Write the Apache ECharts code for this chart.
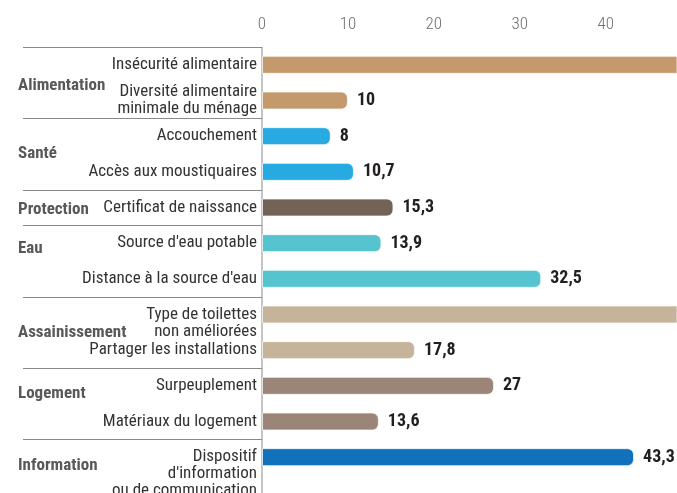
<!DOCTYPE html>
<html>
<head>
<meta charset="utf-8">
<script src="https://cdn.jsdelivr.net/npm/echarts@6/dist/echarts.min.js"></script>
<style>
html, body { margin: 0; padding: 0; background: #fff; }
#main { width: 677px; height: 493px; }
</style>
</head>
<body>
<div id="main"></div>
<script>
// données du graphique
var categories = [
	'Insécurité alimentaire',
	'Diversité alimentaire\nminimale du ménage',
	'Accouchement',
	'Accès aux moustiquaires',
	'Certificat de naissance',
	"Source d'eau potable",
	"Distance à la source d'eau",
	'Type de toilettes\nnon améliorées',
	'Partager les installations',
	'Surpeuplement',
	'Matériaux du logement',
	"Dispositif\nd'information\nou de communication"
];
var values = [56.4, 10, 8, 10.7, 15.3, 13.9, 32.5, 52.6, 17.8, 27, 13.6, 43.3];
var rowGroup = ['Alimentation', 'Alimentation', 'Santé', 'Santé', 'Protection', 'Eau', 'Eau',
	'Assainissement', 'Assainissement', 'Logement', 'Logement', 'Information'];
var groups = ['Alimentation', 'Santé', 'Protection', 'Eau', 'Assainissement', 'Logement', 'Information'];
var xTicks = [0, 10, 20, 30, 40];

// styles
var groupColor = {
	'Alimentation': '#c4996b',
	'Santé': '#27a9e1',
	'Protection': '#736357',
	'Eau': '#55c4ce',
	'Assainissement': '#c5b39a',
	'Logement': '#9b8478',
	'Information': '#1172bb'
};
// décalage vertical des libellés de groupe (px)
var groupShift = [3, 0, 2, -12, 0, -10, 9];
// libellés dont la première ligne est alignée sur la barre
var topAligned = [7, 11];

var FONT = '"Roboto Condensed", "Liberation Sans Narrow", "DejaVu Sans Condensed", sans-serif';
var X_MAX = 48.3;

function $each(arr, fn) {
	for (var i = 0; i < arr.length; i++) fn(i, arr[i]);
}

var chart = echarts.init(document.getElementById('main'));

var barData = [];
$each(values, function(i, v) {
	var item = { value: v, itemStyle: { color: groupColor[rowGroup[i]] } };
	if (v > X_MAX) {
		item.itemStyle.borderRadius = 0;
		item.label = { show: false };
	}
	barData.push(item);
});

chart.setOption({
	animation: false,
	grid: { left: 262, right: 0, top: 47, bottom: 18, outerBoundsMode: 'none' },
	xAxis: {
		type: 'value',
		position: 'top',
		min: 0,
		max: X_MAX,
		interval: 10,
		axisLine: { show: false },
		axisTick: { show: false },
		splitLine: { show: false },
		axisLabel: {
			margin: 14,
			color: '#6d6e71',
			fontSize: 17,
			fontWeight: 300,
			fontFamily: FONT,
			showMaxLabel: false,
			formatter: function(v) {
				return xTicks.indexOf(v) >= 0 ? String(v) : '';
			}
		}
	},
	yAxis: {
		type: 'category',
		inverse: true,
		data: categories,
		axisLine: { show: false },
		axisTick: { show: false },
		axisLabel: {
			interval: 0,
			margin: 5,
			color: '#333',
			fontSize: 17,
			lineHeight: 17,
			fontFamily: FONT,
			formatter: function(value, idx) {
				if (topAligned.indexOf(idx) >= 0) {
					var n = value.split('\n').length - 1;
					for (var k = 0; k < n; k++) value = ' \n' + value;
				}
				return value;
			}
		}
	},
	series: [{
		type: 'bar',
		data: barData,
		barWidth: 18,
		clip: true,
		itemStyle: {
			borderRadius: [0, 6, 6, 0],
			borderColor: 'rgba(255,255,255,0.7)',
			borderWidth: 1
		},
		label: {
			show: true,
			position: 'right',
			distance: 9,
			color: '#231f20',
			fontSize: 18,
			fontWeight: 'bold',
			fontFamily: FONT,
			formatter: function(p) {
				return String(p.value).replace('.', ',');
			}
		}
	}]
});

// séparateurs et libellés de groupe
var x0 = chart.convertToPixel({ xAxisIndex: 0 }, 0);
var band = chart.convertToPixel({ yAxisIndex: 0 }, 1) - chart.convertToPixel({ yAxisIndex: 0 }, 0);
var graphics = [];
var topY = chart.convertToPixel({ yAxisIndex: 0 }, 0) - band / 2;
graphics.push({
	type: 'line',
	shape: { x1: x0, y1: topY, x2: x0, y2: 493 },
	style: { stroke: '#8a8a8a', lineWidth: 1 }
});
$each(groups, function(g, name) {
	var first = rowGroup.indexOf(name);
	var last = rowGroup.lastIndexOf(name);
	var y1 = chart.convertToPixel({ yAxisIndex: 0 }, first);
	var y2 = chart.convertToPixel({ yAxisIndex: 0 }, last);
	var lineY = Math.round(y1 - band / 2) + 0.5;
	graphics.push({
		type: 'line',
		shape: { x1: 23, y1: lineY, x2: x0, y2: lineY },
		style: { stroke: '#8a8a8a', lineWidth: 1 }
	});
	graphics.push({
		type: 'text',
		x: 18,
		y: (y1 + y2) / 2 + groupShift[g],
		style: {
			text: name,
			fill: '#58595b',
			font: 'bold 17px ' + FONT,
			verticalAlign: 'middle',
			align: 'left'
		}
	});
});
chart.setOption({ graphic: graphics });
</script>
</body>
</html>
